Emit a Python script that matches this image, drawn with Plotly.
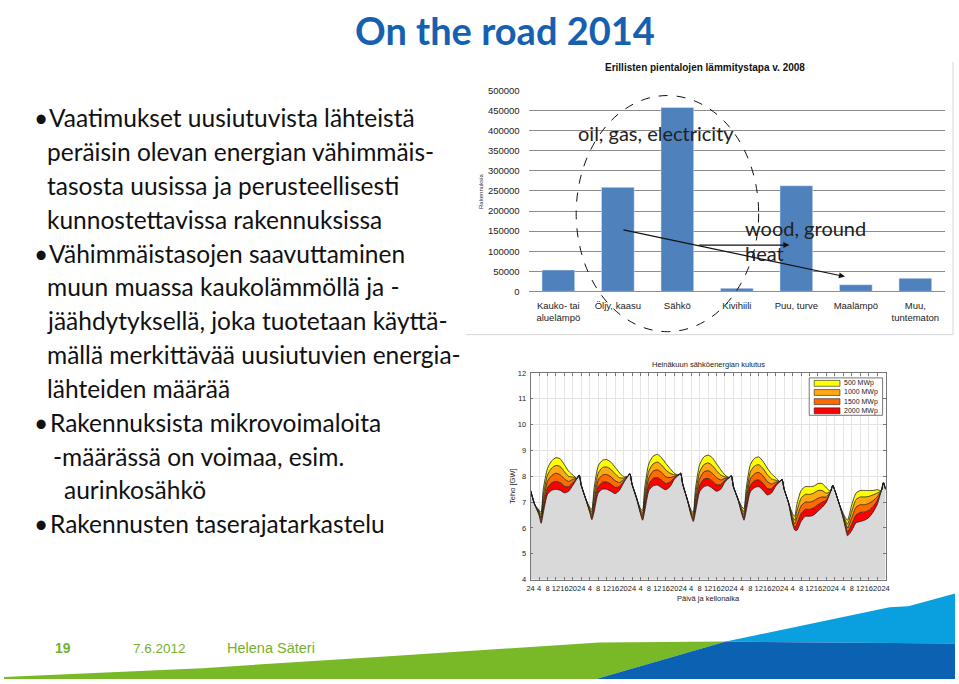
import plotly.graph_objects as go

# ---------------- data ----------------
SLIDE_TITLE = "On the road 2014"

BULLET_LINES = [
    ("•", "Vaatimukset uusiutuvista lähteistä"),
    ("", "peräisin olevan energian vähimmäis-"),
    ("", "tasosta uusissa ja perusteellisesti"),
    ("", "kunnostettavissa rakennuksissa"),
    ("•", "Vähimmäistasojen saavuttaminen"),
    ("", "muun muassa kaukolämmöllä ja -"),
    ("", "jäähdytyksellä, joka tuotetaan käyttä-"),
    ("", "mällä merkittävää uusiutuvien energia-"),
    ("", "lähteiden määrää"),
    ("•", "Rakennuksista mikrovoimaloita"),
    ("", "-määrässä on voimaa, esim."),
    ("", "aurinkosähkö"),
    ("•", "Rakennusten taserajatarkastelu"),
]

FOOTER_PAGE = "19"
FOOTER_DATE = "7.6.2012"
FOOTER_AUTHOR = "Helena Säteri"

# Bar chart: heating method of detached houses 2008
BAR_TITLE = "Erillisten pientalojen lämmitystapa v. 2008"
HEAT_CATEGORIES = ["Kauko- tai<br>aluelämpö", "Öljy, kaasu", "Sähkö", "Kivihiili",
                   "Puu, turve", "Maalämpö", "Muu,<br>tuntematon"]
HEAT_BUILDINGS = [53000, 259000, 458000, 7500, 263000, 16500, 32500]
BAR_TICKS = [0, 50000, 100000, 150000, 200000, 250000, 300000, 350000, 400000, 450000, 500000]
BAR_YTITLE = "Rakennuksia"
NOTE_OIL = "oil, gas, electricity"
NOTE_WOOD = ["wood, ground", "heat"]

# Line/area chart: July electricity consumption
AREA_TITLE = "Heinäkuun sähköenergian kulutus"
AREA_XTITLE = "Päivä ja kellonaika"
AREA_YTITLE = "Teho [GW]"
POWER_TICKS = [4, 5, 6, 7, 8, 9, 10, 11, 12]
HOUR_TICKS = [0, 4, 8, 12, 16, 20, 24, 28, 32, 36, 40, 44, 48, 52, 56, 60, 64, 68, 72,
              76, 80, 84, 88, 92, 96, 100, 104, 108, 112, 116, 120, 124, 128, 132, 136,
              140, 144, 148, 152, 156, 160, 164, 168]
HOUR_TICK_LABELS = ["24", "4", "8", "12", "16", "20"] * 7 + ["24"]
DAY_OFFSETS = [0, 2, 4, 5, 6, 8, 10, 12, 14, 16, 18, 20, 22, 23]
SERIES_NAMES = ["500 MWp", "1000 MWp", "1500 MWp", "2000 MWp"]

CONSUMPTION = [
    [7.45, 6.9, 6.7, 6.6, 7.5, 8.3, 8.6, 8.72, 8.68, 8.45, 8.2, 8.05, 7.92, 8.05],
    [7.65, 7.15, 6.8, 6.72, 7.5, 8.4, 8.62, 8.65, 8.55, 8.35, 8.15, 7.98, 8.0, 8.1],
    [7.7, 7.2, 6.75, 6.68, 7.55, 8.5, 8.78, 8.85, 8.72, 8.5, 8.3, 8.12, 8.05, 8.12],
    [7.7, 7.15, 6.68, 6.6, 7.5, 8.45, 8.75, 8.82, 8.72, 8.48, 8.25, 8.05, 7.95, 8.02],
    [7.6, 7.15, 6.82, 6.75, 7.5, 8.45, 8.7, 8.75, 8.58, 8.32, 8.1, 7.95, 7.8, 7.88],
    [7.5, 7.0, 6.55, 6.45, 6.9, 7.45, 7.6, 7.6, 7.62, 7.72, 7.72, 7.55, 7.42, 7.65],
    [7.45, 6.95, 6.55, 6.4, 6.3, 6.9, 7.35, 7.45, 7.45, 7.45, 7.45, 7.48, 7.45, 7.75],
]
NET_500 = [
    [7.45, 6.9, 6.65, 6.5, 7.25, 8.05, 8.32, 8.42, 8.38, 8.18, 8.0, 7.97, 7.92, 8.05],
    [7.65, 7.15, 6.75, 6.62, 7.25, 8.12, 8.34, 8.36, 8.27, 8.1, 7.95, 7.93, 8.0, 8.1],
    [7.7, 7.2, 6.7, 6.58, 7.3, 8.22, 8.48, 8.55, 8.44, 8.25, 8.12, 8.06, 8.05, 8.12],
    [7.7, 7.15, 6.63, 6.52, 7.25, 8.17, 8.45, 8.52, 8.42, 8.22, 8.05, 7.98, 7.95, 8.02],
    [7.6, 7.15, 6.75, 6.63, 7.25, 8.17, 8.4, 8.45, 8.3, 8.07, 7.9, 7.85, 7.8, 7.88],
    [7.5, 7.0, 6.45, 6.3, 6.65, 7.15, 7.3, 7.3, 7.35, 7.45, 7.45, 7.35, 7.42, 7.65],
    [7.45, 6.95, 6.5, 6.3, 6.15, 6.65, 7.1, 7.2, 7.2, 7.22, 7.28, 7.35, 7.45, 7.75],
]
NET_1000 = [
    [7.45, 6.9, 6.6, 6.4, 7.0, 7.8, 8.03, 8.12, 8.06, 7.9, 7.8, 7.88, 7.92, 8.05],
    [7.65, 7.15, 6.7, 6.52, 7.0, 7.85, 8.05, 8.07, 7.98, 7.83, 7.76, 7.87, 8.0, 8.1],
    [7.7, 7.2, 6.65, 6.48, 7.08, 7.95, 8.2, 8.25, 8.15, 7.98, 7.95, 8.0, 8.05, 8.12],
    [7.7, 7.15, 6.58, 6.43, 7.02, 7.9, 8.17, 8.22, 8.12, 7.95, 7.86, 7.92, 7.95, 8.02],
    [7.6, 7.15, 6.68, 6.52, 7.03, 7.9, 8.1, 8.15, 8.02, 7.8, 7.7, 7.77, 7.8, 7.88],
    [7.5, 7.0, 6.35, 6.15, 6.4, 6.85, 7.0, 7.0, 7.05, 7.15, 7.2, 7.2, 7.42, 7.65],
    [7.45, 6.95, 6.45, 6.2, 6.0, 6.4, 6.8, 6.9, 6.9, 6.95, 7.05, 7.2, 7.45, 7.75],
]
NET_1500 = [
    [7.45, 6.9, 6.55, 6.3, 6.78, 7.55, 7.75, 7.8, 7.76, 7.62, 7.6, 7.76, 7.92, 8.05],
    [7.65, 7.15, 6.65, 6.42, 6.8, 7.6, 7.77, 7.78, 7.7, 7.57, 7.6, 7.8, 8.0, 8.1],
    [7.7, 7.2, 6.6, 6.38, 6.86, 7.7, 7.92, 7.95, 7.85, 7.72, 7.78, 7.94, 8.05, 8.12],
    [7.7, 7.15, 6.53, 6.34, 6.8, 7.65, 7.89, 7.92, 7.82, 7.68, 7.68, 7.85, 7.95, 8.02],
    [7.6, 7.15, 6.6, 6.41, 6.84, 7.65, 7.83, 7.86, 7.73, 7.53, 7.52, 7.7, 7.8, 7.88],
    [7.5, 7.0, 6.25, 6.02, 6.15, 6.55, 6.72, 6.72, 6.78, 6.9, 7.0, 7.08, 7.42, 7.65],
    [7.45, 6.95, 6.4, 6.1, 5.85, 6.15, 6.5, 6.6, 6.62, 6.68, 6.82, 7.05, 7.45, 7.75],
]
NET_2000 = [
    [7.45, 6.9, 6.5, 6.18, 6.58, 7.3, 7.46, 7.5, 7.46, 7.36, 7.42, 7.65, 7.92, 8.05],
    [7.65, 7.15, 6.6, 6.32, 6.6, 7.35, 7.5, 7.5, 7.42, 7.33, 7.45, 7.74, 8.0, 8.1],
    [7.7, 7.2, 6.55, 6.3, 6.65, 7.45, 7.63, 7.66, 7.56, 7.48, 7.6, 7.88, 8.05, 8.12],
    [7.7, 7.15, 6.48, 6.25, 6.6, 7.4, 7.6, 7.64, 7.54, 7.42, 7.5, 7.78, 7.95, 8.02],
    [7.6, 7.15, 6.52, 6.3, 6.65, 7.4, 7.56, 7.6, 7.46, 7.28, 7.35, 7.62, 7.8, 7.88],
    [7.5, 7.0, 6.15, 5.92, 5.9, 6.25, 6.45, 6.45, 6.5, 6.65, 6.8, 7.0, 7.42, 7.65],
    [7.45, 6.95, 6.35, 6.0, 5.7, 5.9, 6.2, 6.25, 6.3, 6.4, 6.6, 6.9, 7.45, 7.75],
]
FINAL_HOUR = 168
FINAL_VALUE = 7.5

# ---------------- helpers ----------------
W, H = 959, 684


def px(x):
    return x / W


def py(y):
    return 1 - y / H


def flatten(days):
    out = []
    for d in days:
        out.extend(d)
    out.append(FINAL_VALUE)
    return out


hours = [d * 24 + o for d in range(len(CONSUMPTION)) for o in DAY_OFFSETS] + [FINAL_HOUR]

BODY_FONT = "Lato"
CHART_FONT = "Liberation Sans"
GREEN = "#74b12e"

fig = go.Figure()

# ---------------- bar chart ----------------
fig.add_trace(go.Bar(
    x=HEAT_CATEGORIES, y=HEAT_BUILDINGS, marker_color="#4F81BD",
    xaxis="x", yaxis="y", showlegend=False, width=0.55,
))

# ---------------- area chart ----------------
layers = [
    (NET_2000, "#d9d9d9", None),
    (NET_1500, "#ff0000", SERIES_NAMES[3]),
    (NET_1000, "#ff6a00", SERIES_NAMES[2]),
    (NET_500, "#ffa812", SERIES_NAMES[1]),
    (CONSUMPTION, "#ffff00", SERIES_NAMES[0]),
]
for i, (vals, col, name) in enumerate(layers):
    fig.add_trace(go.Scatter(
        x=hours, y=flatten(vals), xaxis="x2", yaxis="y2",
        mode="lines", line=dict(color="#1a1a1a", width=0.8, shape="spline", smoothing=0.6),
        fill="tozeroy" if i == 0 else "tonexty", fillcolor=col,
        showlegend=False, name=name or "kulutus",
    ))

fig.update_layout(
    width=W, height=H, autosize=False,
    margin=dict(l=0, r=0, t=0, b=0),
    paper_bgcolor="white", plot_bgcolor="white",
    xaxis=dict(domain=[px(529), px(949)], showgrid=False, ticks="",
               tickfont=dict(family=CHART_FONT, size=9.5, color="#222"),
               ticklabelstandoff=7, showline=False, zeroline=False, fixedrange=True),
    yaxis=dict(domain=[py(290), py(86)], range=[0, 500000], tickvals=BAR_TICKS,
               tickformat="d",
               showgrid=True, gridcolor="#8c8c8c", gridwidth=0.8,
               tickfont=dict(family=CHART_FONT, size=9.5, color="#222"),
               ticklabelstandoff=8, zeroline=True, zerolinecolor="#8c8c8c", zerolinewidth=0.8,
               fixedrange=True),
    xaxis2=dict(domain=[px(531), px(889)], range=[0, 168], tickvals=HOUR_TICKS,
                ticktext=HOUR_TICK_LABELS, tickangle=0,
                showgrid=True, gridcolor="#e4e4e4", gridwidth=0.8,
                ticks="inside", ticklen=3, tickcolor="#777", mirror="ticks",
                showline=True, linecolor="#777", linewidth=0.8,
                tickfont=dict(family=CHART_FONT, size=7.5, color="#222"),
                ticklabelstandoff=1, zeroline=False, anchor="y2", layer="above traces"),
    yaxis2=dict(domain=[py(583), py(373)], range=[4, 12], tickvals=POWER_TICKS,
                showgrid=True, gridcolor="#e4e4e4", gridwidth=0.8,
                ticks="inside", ticklen=3, tickcolor="#777", mirror="ticks",
                showline=True, linecolor="#777", linewidth=0.8,
                tickfont=dict(family=CHART_FONT, size=7.5, color="#222"),
                ticklabelstandoff=2, zeroline=False, anchor="x2", layer="above traces"),
    bargap=0.45,
    showlegend=False,
)

shapes = []
annotations = []

# slide title
annotations.append(dict(x=px(505), y=1.0, xref="paper", yref="paper", text=SLIDE_TITLE,
                        showarrow=False, xanchor="center", yanchor="top", borderpad=0,
                        font=dict(family=BODY_FONT, size=38, color="#1560B0", weight="bold")))

# bullet text
line_x = [49, 47, 47, 47, 49, 47, 47, 47, 47, 50, 53, 64, 50]
base0, step = 125, 34.4
for i, (bullet, txt) in enumerate(BULLET_LINES):
    yb = base0 + step * i - 11.5
    if bullet:
        annotations.append(dict(x=px(28), y=py(yb), xref="paper", yref="paper", text=bullet,
                                showarrow=False, xanchor="left", yanchor="middle",
                                font=dict(family=BODY_FONT, size=24.5, color="#111")))
    annotations.append(dict(x=px(line_x[i] - 6), y=py(yb), xref="paper", yref="paper", text=txt,
                            showarrow=False, xanchor="left", yanchor="middle",
                            font=dict(family=BODY_FONT, size=24.5, color="#111")))

# bar chart extras
annotations.append(dict(x=px(707), y=py(63), xref="paper", yref="paper", text=BAR_TITLE,
                        showarrow=False, xanchor="center", yanchor="middle",
                        font=dict(family=CHART_FONT, size=10, color="#111", weight="bold")))
annotations.append(dict(x=px(481), y=py(188), xref="paper", yref="paper", text=BAR_YTITLE,
                        showarrow=False, textangle=-90, xanchor="center", yanchor="middle",
                        font=dict(family=CHART_FONT, size=6, color="#333")))
annotations.append(dict(x=px(577), y=py(129), xref="paper", yref="paper", text=NOTE_OIL,
                        showarrow=False, xanchor="left", yanchor="middle",
                        font=dict(family=BODY_FONT, size=20, color="#222")))
annotations.append(dict(x=px(745), y=py(226), xref="paper", yref="paper", text=NOTE_WOOD[0],
                        showarrow=False, xanchor="left", yanchor="middle",
                        font=dict(family=BODY_FONT, size=20, color="#222")))
annotations.append(dict(x=px(745), y=py(251), xref="paper", yref="paper", text=NOTE_WOOD[1],
                        showarrow=False, xanchor="left", yanchor="middle",
                        font=dict(family=BODY_FONT, size=20, color="#222")))
annotations.append(dict(x=px(848), y=py(275), xref="paper", yref="paper", ax=625 - 848, ay=228 - 275,
                        axref="pixel", ayref="pixel", text="", showarrow=True,
                        arrowhead=2, arrowsize=1, arrowwidth=1.2, arrowcolor="#111"))
annotations.append(dict(x=px(792), y=py(243), xref="paper", yref="paper", ax=700 - 792, ay=0,
                        axref="pixel", ayref="pixel", text="", showarrow=True,
                        arrowhead=2, arrowsize=1, arrowwidth=1.2, arrowcolor="#111"))
shapes.append(dict(type="circle", xref="paper", yref="paper", x0=px(577), x1=px(761),
                   y0=py(331), y1=py(91), line=dict(color="#111", width=1, dash="dash")))
shapes.append(dict(type="line", xref="paper", yref="paper", x0=px(466), x1=px(957),
                   y0=py(334), y1=py(334), line=dict(color="#d6d6d6", width=1)))
shapes.append(dict(type="line", xref="paper", yref="paper", x0=px(957), x1=px(957),
                   y0=py(57), y1=py(334), line=dict(color="#d6d6d6", width=1)))

# area chart texts
annotations.append(dict(x=px(710), y=py(364), xref="paper", yref="paper", text=AREA_TITLE,
                        showarrow=False, xanchor="center", yanchor="middle",
                        font=dict(family=CHART_FONT, size=7.5, color="#222")))
annotations.append(dict(x=px(710), y=py(602), xref="paper", yref="paper", text=AREA_XTITLE,
                        showarrow=False, xanchor="center", yanchor="middle",
                        font=dict(family=CHART_FONT, size=7.5, color="#222")))
annotations.append(dict(x=px(512), y=py(488), xref="paper", yref="paper", text=AREA_YTITLE,
                        showarrow=False, textangle=-90, xanchor="center", yanchor="middle",
                        font=dict(family=CHART_FONT, size=7.5, color="#222")))

# manual legend for the area chart
shapes.append(dict(type="rect", xref="paper", yref="paper", x0=px(812), x1=px(886),
                   y0=py(416), y1=py(378), line=dict(color="#555", width=0.8), fillcolor="white"))
leg_colors = ["#ffff00", "#ffa812", "#ff6a00", "#ff0000"]
for i, (nm, col) in enumerate(zip(SERIES_NAMES, leg_colors)):
    yc = 383.5 + 9.3 * i
    shapes.append(dict(type="rect", xref="paper", yref="paper", x0=px(817), x1=px(843),
                       y0=py(yc + 3), y1=py(yc - 3), line=dict(color="#222", width=0.6),
                       fillcolor=col))
    annotations.append(dict(x=px(845), y=py(yc), xref="paper", yref="paper", text=nm,
                            showarrow=False, xanchor="left", yanchor="middle",
                            font=dict(family=CHART_FONT, size=7, color="#222")))


# footer graphics
def path(points):
    return "M " + " L ".join(f"{px(x):.5f},{py(y):.5f}" for x, y in points) + " Z"


shapes.append(dict(type="path", xref="paper", yref="paper", layer="below",
                   path=path([(0, 684), (0, 682), (200, 673), (400, 660), (600, 647),
                              (728, 646), (597, 684)]),
                   fillcolor="#79b928", line=dict(width=0)))
shapes.append(dict(type="path", xref="paper", yref="paper", layer="below",
                   path=path([(728, 646), (893, 611), (912, 610), (959, 597), (959, 648)]),
                   fillcolor="#0aa0df", line=dict(width=0)))
shapes.append(dict(type="path", xref="paper", yref="paper", layer="below",
                   path=path([(597, 684), (728, 646), (959, 648), (959, 684)]),
                   fillcolor="#0b62b2", line=dict(width=0)))

annotations.append(dict(x=px(60), y=py(653), xref="paper", yref="paper", text=FOOTER_PAGE,
                        showarrow=False, xanchor="center", yanchor="middle",
                        font=dict(family=CHART_FONT, size=14, color=GREEN, weight="bold")))
annotations.append(dict(x=px(157), y=py(653), xref="paper", yref="paper", text=FOOTER_DATE,
                        showarrow=False, xanchor="center", yanchor="middle",
                        font=dict(family=CHART_FONT, size=13.5, color=GREEN)))
annotations.append(dict(x=px(269), y=py(653), xref="paper", yref="paper", text=FOOTER_AUTHOR,
                        showarrow=False, xanchor="center", yanchor="middle",
                        font=dict(family=CHART_FONT, size=14.5, color=GREEN)))

fig.update_layout(shapes=shapes, annotations=annotations)
fig.write_html(
    "out.html",
    config={"displayModeBar": False},
    post_script="document.body.style.margin='0';document.body.style.overflow='hidden';",
)
